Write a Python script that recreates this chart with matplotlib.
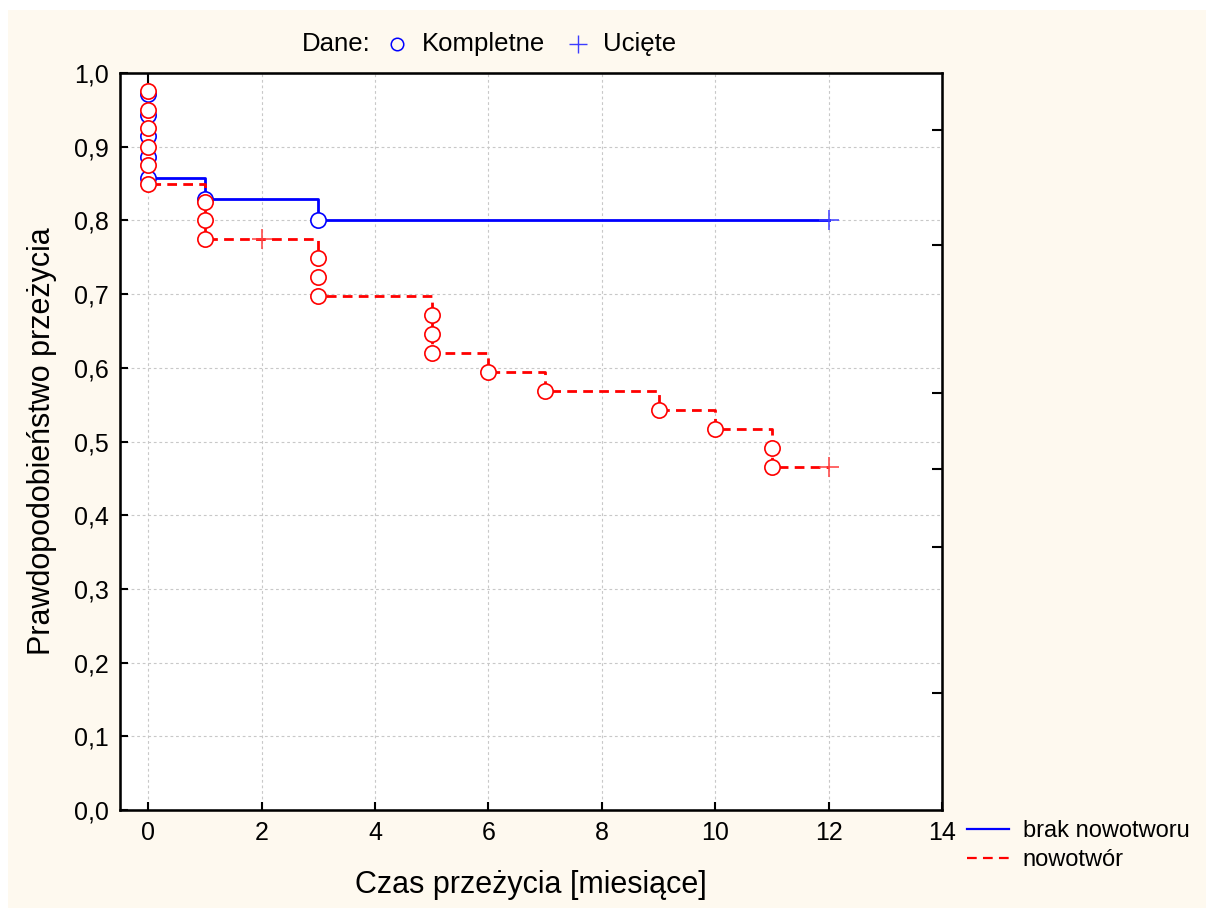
import matplotlib
matplotlib.use("Agg")
import matplotlib.pyplot as plt
from matplotlib.lines import Line2D
from matplotlib.patches import Rectangle

plt.rcParams['font.family'] = ['Liberation Sans', 'DejaVu Sans']
plt.rcParams['lines.scale_dashes'] = False

# czasy zdarzeń (zgony) i oszacowania Kaplana-Meiera
t_brak = [0, 0, 0, 0, 0, 1, 3]
s_brak = [0.971, 0.943, 0.914, 0.886, 0.857, 0.829, 0.800]
t_brak_cens = [12]
s_brak_cens = [0.800]

t_now = [0, 0, 0, 0, 0, 0, 1, 1, 1, 3, 3, 3, 5, 5, 5, 6, 7, 9, 10, 11, 11]
s_now = [0.975, 0.950, 0.925, 0.900, 0.875, 0.850, 0.825, 0.800, 0.775,
         0.749, 0.723, 0.698, 0.672, 0.646, 0.620, 0.594, 0.569, 0.543,
         0.517, 0.491, 0.465]
t_now_cens = [2, 12]
s_now_cens = [0.775, 0.465]

xticks = [0, 2, 4, 6, 8, 10, 12, 14]
yticks = [i / 10 for i in range(11)]
ylabels = [f"{v:.1f}".replace('.', ',') for v in yticks]
# znaczniki na prawej osi (bez opisów)
right_ticks = [0.923, 0.767, 0.566, 0.463, 0.357, 0.159]

fig = plt.figure(figsize=(12.06, 9.08), dpi=100, facecolor='white')
fig.add_artist(Rectangle((8 / 1206, 0), 1, 1 - 10 / 908, transform=fig.transFigure,
                         facecolor='#FEF9EF', edgecolor='none', zorder=-10))
ax = fig.add_axes([120 / 1206, 1 - 810 / 908, 822 / 1206, 737 / 908])
ax.set_facecolor('white')

ax.set_xlim(-0.5, 14)
ax.set_ylim(0, 1)
ax.set_xticks(xticks)
ax.set_yticks(yticks)
ax.set_yticklabels(ylabels)
ax.tick_params(direction='in', length=6, width=1.5, labelsize=18, pad=8)
ax.grid(True, color='#c8c8c8', linestyle=(0, (2, 2)), linewidth=0.8)
for sp in ax.spines.values():
    sp.set_linewidth(1.8)

ax_r = ax.twinx()
ax_r.set_ylim(0, 1)
ax_r.set_yticks(right_ticks)
ax_r.set_yticklabels([])
ax_r.tick_params(direction='in', length=7, width=1.5)
ax_t = ax.twiny()
ax_t.set_xlim(-0.5, 14)
ax_t.set_xticks([0])
ax_t.set_xticklabels([])
ax_t.tick_params(direction='in', length=7, width=1.5)

# krzywe przeżycia (od pierwszego zdarzenia do ostatniej obserwacji uciętej)
ax.step(t_brak + t_brak_cens, s_brak + s_brak_cens, where='post',
        color='#0000ff', lw=2.0, zorder=3)
ax.step(t_now + t_now_cens[-1:], s_now + s_now_cens[-1:], where='post',
        color='#ff0000', lw=2.0, dashes=(7, 4.5), zorder=3)

ax.plot(t_brak, s_brak, 'o', ms=11, mfc='white', mec='#0000ff', mew=1.2, zorder=4)
ax.plot(t_now, s_now, 'o', ms=11, mfc='white', mec='#ff0000', mew=1.2, zorder=5)
ax.plot(t_brak_cens, s_brak_cens, '+', ms=14, mew=1.1, color='#3c3cff', zorder=6)
ax.plot(t_now_cens, s_now_cens, '+', ms=14, mew=1.1, color='#ff3c3c', zorder=6)

ax.set_xlabel('Czas przeżycia [miesiące]', fontsize=22, labelpad=18)
ax.set_ylabel('Prawdopodobieństwo przeżycia', fontsize=22, labelpad=12)

# legenda typu danych nad wykresem
yl = 1 - 44 / 908
fig.text(302 / 1206, yl, 'Dane:', fontsize=18.5, va='center')
fig.add_artist(Line2D([397 / 1206], [yl], marker='o', ms=9, mfc='none',
                      mec='#0000ff', mew=1.1, transform=fig.transFigure))
fig.text(422 / 1206, yl, 'Kompletne', fontsize=18.5, va='center')
fig.add_artist(Line2D([578 / 1206], [yl], marker='+', ms=13, mew=1.0,
                      color='#3c3cff', transform=fig.transFigure))
fig.text(603 / 1206, yl, 'Ucięte', fontsize=18.5, va='center')

# legenda grup
handles = [Line2D([], [], color='#0000ff', lw=1.6),
           Line2D([], [], color='#ff0000', lw=1.6, dashes=(7, 4.5))]
fig.legend(handles, ['brak nowotworu', 'nowotwór'], loc='upper left',
           bbox_to_anchor=(946 / 1206, 1 - 799 / 908), frameon=False,
           fontsize=17, handlelength=1.75, handletextpad=0.6, labelspacing=0.28)

fig.savefig('out.png', dpi=100, facecolor=fig.get_facecolor())
